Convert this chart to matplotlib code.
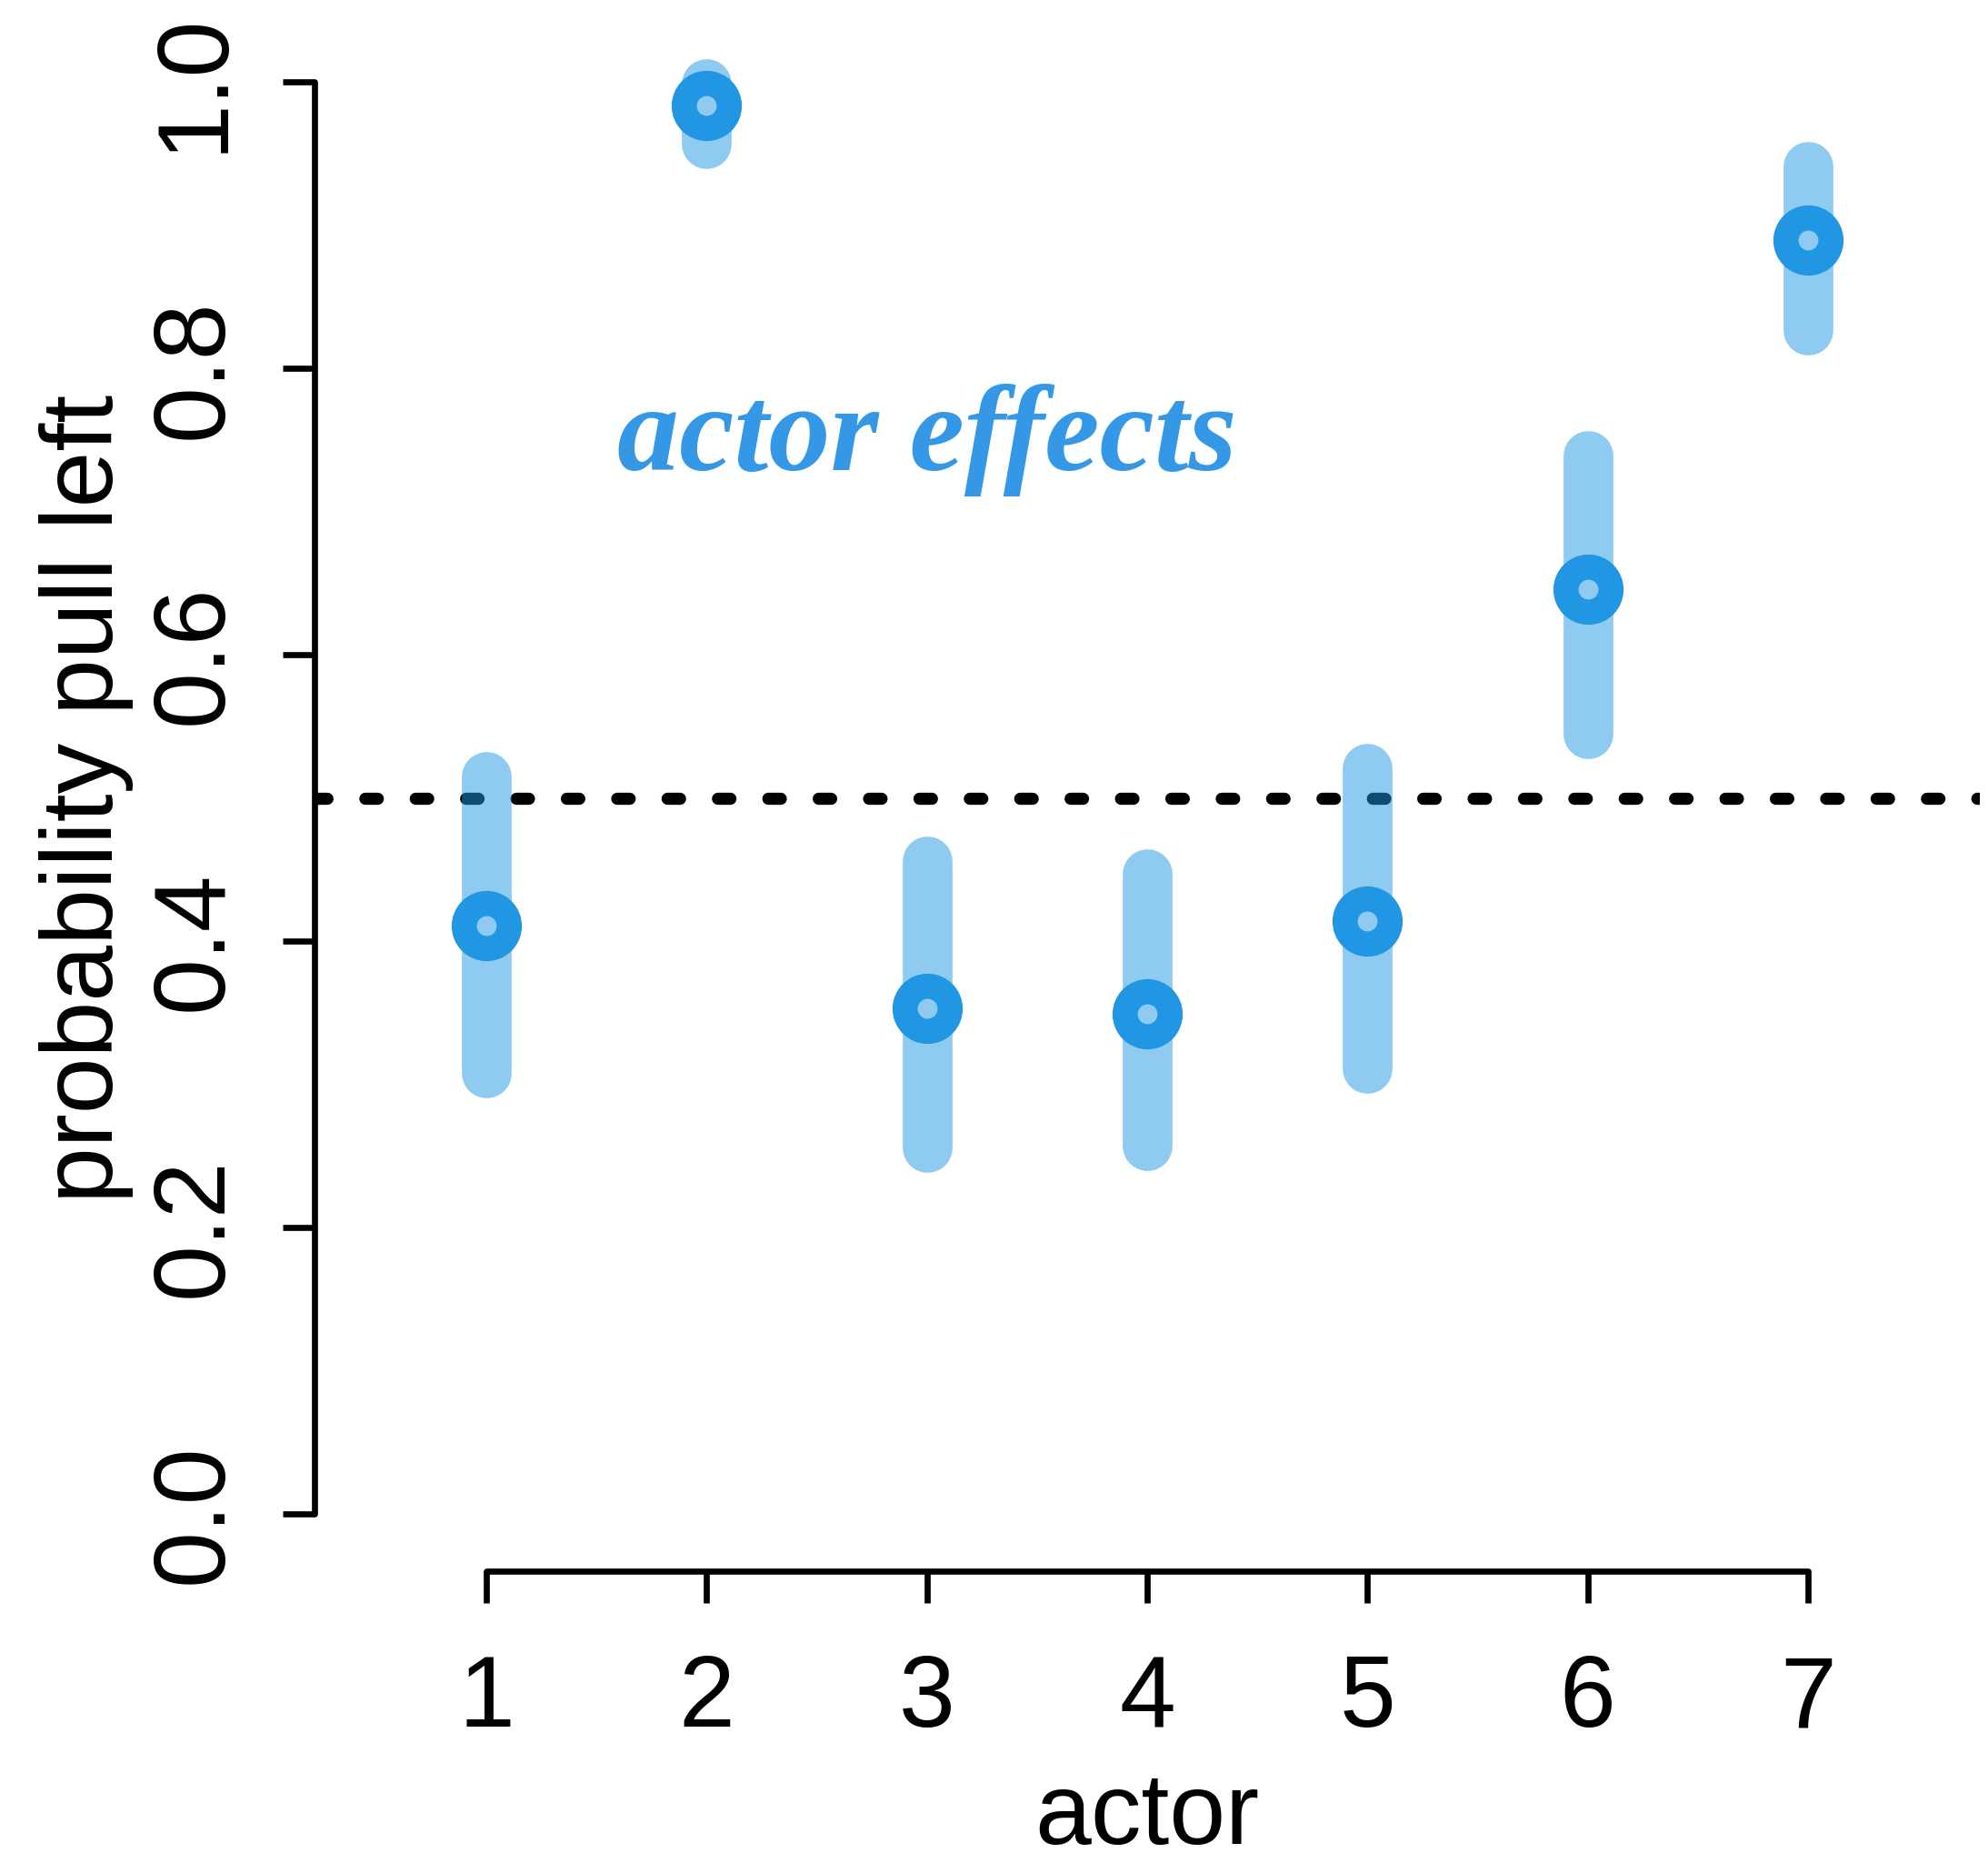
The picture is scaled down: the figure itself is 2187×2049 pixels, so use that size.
import numpy as np
import matplotlib.pyplot as plt

plt.rcParams['font.family'] = ['Liberation Sans', 'DejaVu Sans']
plt.rcParams['lines.scale_dashes'] = False

# posterior mean and 89% interval of p(pull left) per actor
actors = [1, 2, 3, 4, 5, 6, 7]
p_mean = [0.411, 0.984, 0.353, 0.349, 0.414, 0.646, 0.890]
p_lo = [0.308, 0.957, 0.256, 0.257, 0.311, 0.545, 0.827]
p_hi = [0.515, 0.999, 0.456, 0.447, 0.521, 0.739, 0.941]
yticks = [0.0, 0.2, 0.4, 0.6, 0.8, 1.0]

blue = '#2196E3'

fig = plt.figure(figsize=(21.87, 20.49), dpi=100)
ax = fig.add_axes([0.1582, 0.1567, 0.8376, 0.8299])
ax.set_xlim(0.22, 7.78)
ax.set_ylim(-0.04, 1.04)

# reference line at 0.5
ax.axhline(0.5, color='black', lw=9.6, dashes=(9.9, 30), dash_capstyle='round', zorder=1)

# intervals (semi-transparent) then hollow points
for a, lo, hi in zip(actors, p_lo, p_hi):
    ax.plot([a, a], [lo, hi], color=blue, alpha=0.5, lw=39.4,
            solid_capstyle='round', zorder=2)
ax.plot(actors, p_mean, 'o', ms=35.7, mfc='none', mec=blue, mew=19.9, zorder=3)

ax.text(3, 0.729, 'actor effects', ha='center', va='baseline', color='#3598E6',
        fontsize=98, family='Liberation Serif', weight='bold', style='italic')

# R-style detached axes
for side in ['top', 'right']:
    ax.spines[side].set_visible(False)
for side in ['left', 'bottom']:
    ax.spines[side].set_linewidth(4.8)
    ax.spines[side].set_capstyle('round')
ax.spines['left'].set_bounds(0, 1)
ax.spines['bottom'].set_bounds(1, 7)

ax.set_xticks(actors)
ax.set_xticklabels([str(a) for a in actors])
ax.set_yticks(yticks)
ax.set_yticklabels([f'{v:.1f}' for v in yticks])
ax.tick_params(length=25, width=4.8, direction='out', labelsize=80)
ax.tick_params(axis='x', pad=40)
ax.tick_params(axis='y', pad=32)
for lab in ax.get_yticklabels():
    lab.set_rotation(90)
    lab.set_va('center')

fig.text(0.577, 0.01025, 'actor', ha='center', va='baseline', fontsize=80)
fig.text(0.0567, 0.5715, 'probability pull left', rotation=90, rotation_mode='anchor',
         ha='center', va='baseline', fontsize=80)

fig.savefig('out.png', dpi=100)
